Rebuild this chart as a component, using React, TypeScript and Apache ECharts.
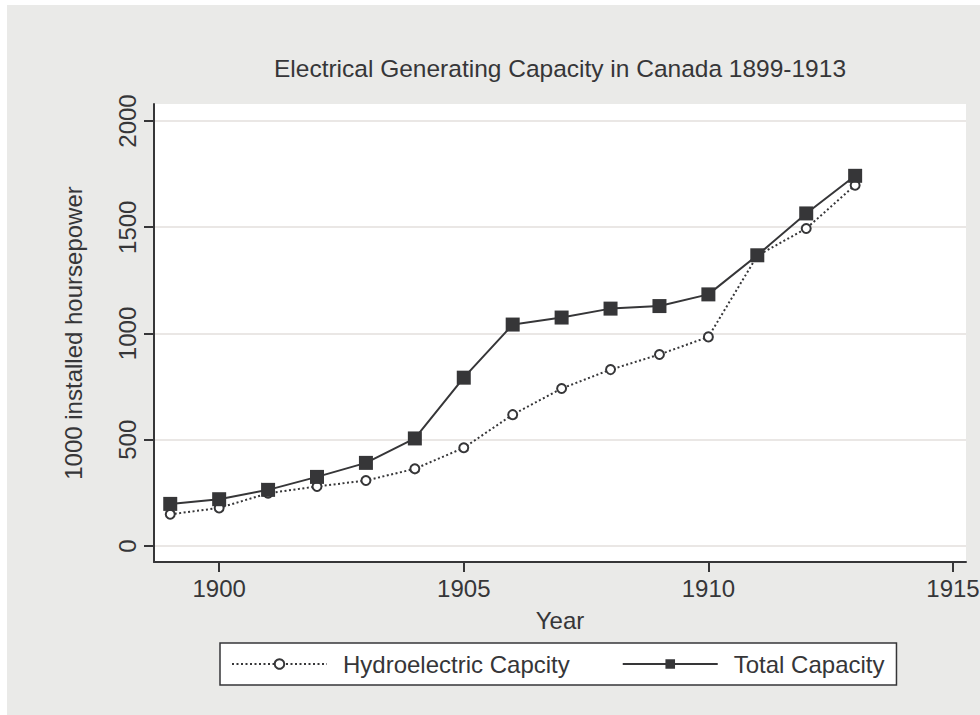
import React, { useEffect, useRef } from "react";
import * as echarts from "echarts";

const years = [1899, 1900, 1901, 1902, 1903, 1904, 1905, 1906, 1907, 1908, 1909, 1910, 1911, 1912, 1913];
const hydroValues = [149, 179, 248, 280, 308, 363, 462, 618, 741, 830, 901, 984, 1366, 1494, 1698];
const totalValues = [198, 220, 264, 325, 391, 506, 792, 1042, 1075, 1117, 1129, 1184, 1368, 1565, 1742];
const xTicks = [1900, 1905, 1910, 1915];
const yTicks = [0, 500, 1000, 1500, 2000];

const titleText = "Electrical Generating Capacity in Canada 1899-1913";
const hydroName = "Hydroelectric Capcity";
const totalName = "Total Capacity";

const FONT = "'Liberation Sans', Arial, sans-serif";
const INK = "#363638";

export default function App() {
  const ref = useRef<HTMLDivElement>(null);
  useEffect(() => {
    if (!ref.current) return;
    const chart = echarts.init(ref.current, null, { renderer: "svg" });
    const hydroData = years.map((y, i) => [y, hydroValues[i]]);
    const totalData = years.map((y, i) => [y, totalValues[i]]);
    chart.setOption({
      animation: false,
      backgroundColor: "#eaeae8",
      textStyle: { fontFamily: FONT },
      graphic: [
        {
          type: "text",
          x: 553,
          y: 63,
          style: {
            text: titleText,
            fontFamily: FONT,
            fontSize: 24.5,
            fill: INK,
            textAlign: "center",
            textVerticalAlign: "middle",
          },
        },
      ],
      grid: {
        left: 147,
        top: 99,
        width: 812,
        height: 458,
        show: true,
        backgroundColor: "#ffffff",
        borderWidth: 0,
        containLabel: false,
        outerBoundsMode: "none",
      },
      legend: {
        left: 213,
        top: 638,
        orient: "horizontal",
        backgroundColor: "#ffffff",
        borderColor: INK,
        borderWidth: 1.5,
        borderRadius: 0,
        padding: [9, 12, 9, 11],
        itemWidth: 95,
        itemHeight: 12,
        itemGap: 52,
        textStyle: {
          fontFamily: FONT,
          fontSize: 24,
          color: INK,
          padding: [0, 0, 0, 11],
        },
        data: [hydroName, totalName],
      },
      xAxis: {
        type: "value",
        min: 1898.668,
        max: 1915.266,
        name: "Year",
        nameLocation: "middle",
        nameGap: 46,
        nameTextStyle: { fontFamily: FONT, fontSize: 24, color: INK },
        axisLine: { show: true, onZero: false, lineStyle: { color: INK, width: 2 } },
        axisTick: { show: true, length: 10, lineStyle: { color: INK, width: 2 }, customValues: xTicks },
        axisLabel: {
          customValues: xTicks,
          margin: 14,
          fontFamily: FONT,
          fontSize: 24,
          color: INK,
          formatter: (v: number) => String(v),
        },
        splitLine: { show: false },
      },
      yAxis: {
        type: "value",
        min: -75.5,
        max: 2080,
        name: "1000 installed hoursepower",
        nameLocation: "middle",
        nameRotate: 90,
        nameGap: 69,
        nameTextStyle: { fontFamily: FONT, fontSize: 24, color: INK },
        axisLine: { show: true, onZero: false, lineStyle: { color: INK, width: 2 } },
        axisTick: { show: true, length: 10, lineStyle: { color: INK, width: 2 }, customValues: yTicks },
        axisLabel: {
          customValues: yTicks,
          rotate: 90,
          margin: 15,
          fontFamily: FONT,
          fontSize: 24,
          color: INK,
          formatter: (v: number) => String(v),
        },
        splitLine: { show: true, lineStyle: { color: "#e3dfdd", width: 1.6 } },
      },
      series: [
        {
          name: hydroName,
          type: "line",
          data: hydroData,
          symbol: "circle",
          symbolSize: 9,
          showAllSymbol: true,
          lineStyle: { color: INK, width: 2, type: [2, 2.5] },
          itemStyle: { color: "#ffffff", borderColor: INK, borderWidth: 2 },
          z: 2,
        },
        {
          name: totalName,
          type: "line",
          data: totalData,
          symbol: "rect",
          symbolSize: 14,
          showAllSymbol: true,
          lineStyle: { color: INK, width: 2, type: "solid" },
          itemStyle: { color: INK, borderColor: INK, borderWidth: 0 },
          z: 3,
        },
      ],
    });
    return () => chart.dispose();
  }, []);
  return (
    <div
      ref={ref}
      style={{ position: "fixed", left: 7, top: 5, width: 973, height: 710 }}
    />
  );
}
